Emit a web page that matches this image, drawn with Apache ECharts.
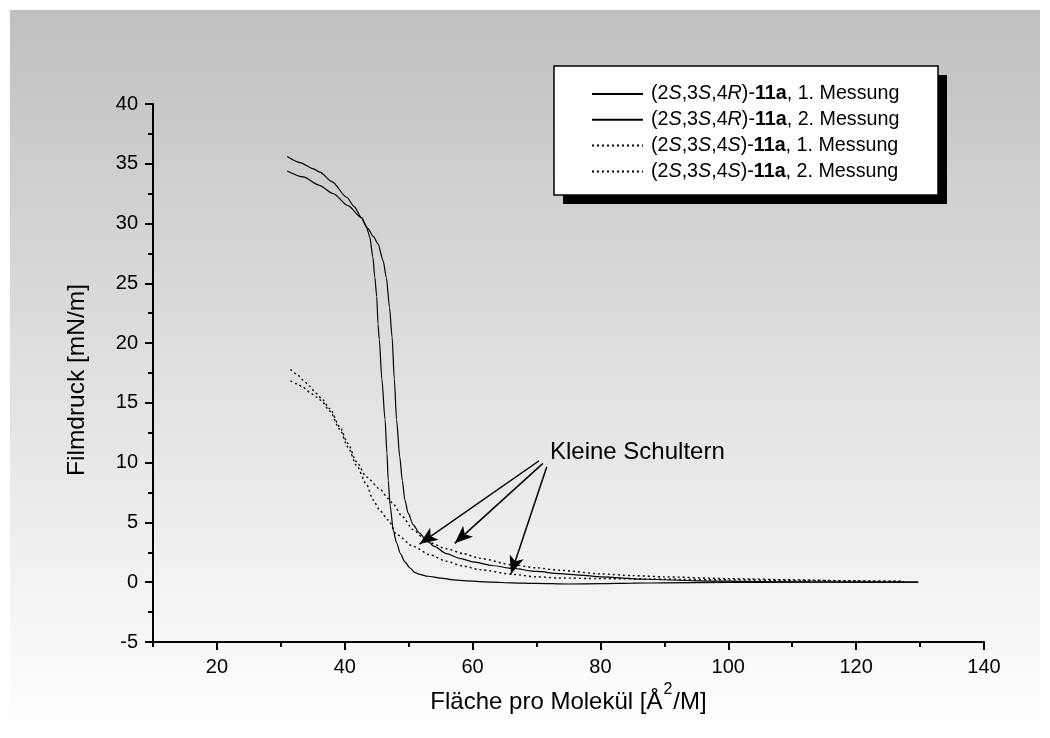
<!DOCTYPE html>
<html>
<head>
<meta charset="utf-8">
<script src="https://cdn.jsdelivr.net/npm/echarts@6/dist/echarts.min.js"></script>
<style>
  html, body { margin: 0; padding: 0; background: #ffffff; }
  #chart { width: 1050px; height: 738px; }
</style>
</head>
<body>
<div id="chart"></div>
<script>
// Isotherm data: area per molecule [Å²/M] vs. film pressure [mN/m]
const seriesNames = [
  '(2S,3S,4R)-11a, 1. Messung',
  '(2S,3S,4R)-11a, 2. Messung',
  '(2S,3S,4S)-11a, 1. Messung',
  '(2S,3S,4S)-11a, 2. Messung'
];

// rich-text pieces for each legend entry: configuration at C4, measurement no.
const legendConfig = ['R', 'R', 'S', 'S'];
const legendRun = ['1', '2', '1', '2'];

const r1 = [
  [31.0, 35.6], [33.0, 35.1], [35.0, 34.6], [36.1, 34.3], [38.0, 33.5], [40.3, 32.2],
  [41.5, 31.4], [42.6, 30.5], [43.4, 29.7], [43.9, 28.9], [44.4, 27.2], [44.7, 25.5],
  [45.0, 23.9], [45.2, 21.6], [45.4, 20.3], [45.8, 17.0], [46.3, 13.6], [46.6, 10.8],
  [46.8, 8.5], [47.1, 6.4], [47.6, 4.3], [48.1, 3.3], [48.7, 2.4], [49.4, 1.7],
  [50.2, 1.2], [51.0, 0.8], [51.7, 0.65], [53.0, 0.5], [55.0, 0.35], [57.0, 0.2],
  [59.0, 0.12], [61.0, 0.05], [63.0, 0.0], [66.0, -0.05], [70.0, -0.1], [75.0, -0.15],
  [80.0, -0.12], [85.0, -0.08], [90.0, -0.05], [100.0, -0.02], [110.0, 0.0], [120.0, 0.0],
  [129.7, 0.0]
];

const r2 = [
  [31.0, 34.4], [33.5, 33.9], [36.0, 33.2], [38.2, 32.5], [40.5, 31.5], [42.6, 30.5],
  [43.6, 29.6], [44.5, 28.9], [45.2, 28.3], [46.0, 26.9], [46.5, 25.5], [47.0, 23.0],
  [47.4, 20.5], [47.75, 17.0], [48.1, 13.6], [48.6, 10.5], [49.0, 8.5], [49.4, 6.9],
  [49.9, 5.8], [50.7, 4.8], [51.7, 4.1], [52.8, 3.5], [54.0, 3.0], [55.9, 2.4],
  [58.0, 2.0], [60.1, 1.7], [63.0, 1.4], [66.3, 1.15], [70.0, 0.9], [73.6, 0.72],
  [76.8, 0.6], [80.0, 0.45], [87.2, 0.25], [95.0, 0.12], [105.0, 0.05], [115.0, 0.02],
  [129.7, 0.0]
];

const s1 = [
  [31.5, 17.8], [32.5, 17.4], [33.5, 16.9], [34.5, 16.4], [35.5, 15.8], [36.3, 15.4],
  [37.7, 14.5], [39.2, 13.0], [40.5, 11.6], [41.8, 10.1], [43.4, 8.8], [45.5, 7.8],
  [46.8, 7.0], [47.5, 6.6], [49.0, 5.5], [50.7, 4.4], [52.3, 3.7], [53.3, 3.3],
  [55.9, 2.8], [58.5, 2.4], [61.1, 2.0], [66.3, 1.45], [70.0, 1.2], [73.6, 1.0],
  [80.0, 0.7], [85.0, 0.55], [90.0, 0.45], [100.0, 0.3], [110.0, 0.2], [120.0, 0.1],
  [127.5, 0.05]
];

const s2 = [
  [31.5, 16.85], [32.5, 16.6], [33.5, 16.3], [34.5, 15.9], [35.5, 15.5], [36.3, 15.2],
  [37.7, 14.3], [39.2, 12.8], [40.5, 11.3], [41.8, 9.8], [43.4, 8.2], [44.4, 6.9],
  [45.5, 6.0], [46.8, 5.2], [48.1, 4.0], [50.7, 3.0], [53.3, 2.3], [55.9, 1.75],
  [58.5, 1.35], [61.1, 1.05], [66.3, 0.65], [70.0, 0.45], [73.6, 0.35], [80.0, 0.3],
  [90.0, 0.25], [100.0, 0.2], [110.0, 0.15], [120.0, 0.1], [127.0, 0.08]
];

// annotation arrows: [start, tip] in data coordinates
const shoulderArrows = [
  [[70.4, 10.16], [51.7, 3.19]],
  [[71.0, 9.94], [57.2, 3.25]],
  [[71.6, 9.66], [66.0, 0.69]]
];
const shoulderLabel = 'Kleine Schultern';
const shoulderLabelAt = [72.1, 10.9];

const xMajorTicks = [20, 40, 60, 80, 100, 120, 140];

const FONT = '"Liberation Sans", Arial, Helvetica, sans-serif';
const GRID = { left: 153, right: 66, top: 104, bottom: 96 };
const LEGEND_FS = 19.7;

const chart = echarts.init(document.getElementById('chart'), null, { renderer: 'canvas' });

function legendText(name) {
  const i = seriesNames.indexOf(name);
  return '{n|(2}{i|S}{n|,3}{i|S}{n|,4}{i|' + legendConfig[i] + '}{n|)-}{b|11a}{n|, ' +
    legendRun[i] + '. Messung}';
}

function curve(name, data, dotted, extra) {
  return Object.assign({
    name: name,
    type: 'line',
    xAxisIndex: 0,
    yAxisIndex: 0,
    data: data,
    showSymbol: false,
    symbol: 'none',
    smooth: 0.25,
    smoothMonotone: 'x',
    animation: false,
    lineStyle: dotted
      ? { color: '#000', width: 1.4, type: [2, 3] }
      : { color: '#000', width: 1.2, type: 'solid' },
    itemStyle: { color: '#000' },
    z: 3
  }, extra || {});
}

const option = {
  backgroundColor: '#ffffff',
  animation: false,
  graphic: [
    {
      type: 'rect', z: -10, silent: true,
      shape: { x: 10, y: 10, width: 1030, height: 718 },
      style: {
        fill: {
          type: 'linear', x: 0, y: 0, x2: 0, y2: 1,
          colorStops: [{ offset: 0, color: '#c0c0c0' }, { offset: 1, color: '#ffffff' }]
        }
      }
    },
    {
      type: 'rect', z: 5, silent: true,
      shape: { x: 563, y: 75, width: 384, height: 129 },
      style: { fill: '#000' }
    },
    {
      type: 'rect', z: 6, silent: true,
      shape: { x: 554, y: 66, width: 384, height: 129 },
      style: { fill: '#fff', stroke: '#000', lineWidth: 1.5 }
    }
  ],
  legend: {
    z: 10,
    orient: 'vertical',
    left: 591,
    top: 84,
    itemWidth: 51,
    itemHeight: 14,
    itemGap: 5.8,
    padding: 0,
    selectedMode: false,
    data: seriesNames,
    formatter: legendText,
    itemStyle: { opacity: 0 },
    textStyle: {
      color: '#000',
      fontFamily: FONT,
      fontSize: LEGEND_FS,
      padding: [0, 0, 0, 3],
      rich: {
        n: { fontFamily: FONT, fontSize: LEGEND_FS, color: '#000', lineHeight: 20 },
        i: { fontFamily: FONT, fontSize: LEGEND_FS, color: '#000', fontStyle: 'italic', lineHeight: 20 },
        b: { fontFamily: FONT, fontSize: LEGEND_FS, color: '#000', fontWeight: 'bold', lineHeight: 20 }
      }
    }
  },
  grid: [
    Object.assign({ containLabel: false }, GRID),
    Object.assign({ containLabel: false }, GRID)
  ],
  xAxis: [
    {
      type: 'value', gridIndex: 0, min: 10, max: 140, interval: 10,
      position: 'bottom',
      name: '{n|Fläche pro Molekül [Å}{s|2}{n|/M]}',
      nameLocation: 'middle',
      nameGap: 36,
      nameTextStyle: {
        rich: {
          n: { fontFamily: FONT, fontSize: 24, color: '#000', lineHeight: 32, verticalAlign: 'bottom' },
          s: { fontFamily: FONT, fontSize: 16, color: '#000', lineHeight: 32, verticalAlign: 'top', padding: [0, 1, 0, 1] }
        }
      },
      axisLine: { show: true, onZero: false, lineStyle: { color: '#000', width: 2 } },
      axisTick: { show: true, inside: false, length: 8, customValues: xMajorTicks, lineStyle: { color: '#000', width: 2 } },
      axisLabel: { show: true, customValues: xMajorTicks, margin: 15, color: '#000', fontFamily: FONT, fontSize: 20 },
      splitLine: { show: false },
      minorTick: { show: false }
    },
    {
      type: 'value', gridIndex: 1, min: 10, max: 140, interval: 10,
      position: 'bottom',
      axisLine: { show: false, onZero: false },
      axisTick: { show: true, inside: false, length: 5, lineStyle: { color: '#000', width: 2 } },
      axisLabel: { show: false },
      splitLine: { show: false }
    }
  ],
  yAxis: [
    {
      type: 'value', gridIndex: 0, min: -5, max: 40, interval: 5,
      name: 'Filmdruck [mN/m]',
      nameLocation: 'middle',
      nameGap: 63,
      nameTextStyle: { color: '#000', fontFamily: FONT, fontSize: 24.5, padding: [0, 14, 0, 0] },
      axisLine: { show: true, onZero: false, lineStyle: { color: '#000', width: 2 } },
      axisTick: { show: true, inside: false, length: 8, lineStyle: { color: '#000', width: 2 } },
      minorTick: { show: true, splitNumber: 2, length: 5, lineStyle: { color: '#000', width: 2 } },
      axisLabel: { show: true, margin: 15, color: '#000', fontFamily: FONT, fontSize: 20 },
      splitLine: { show: false }
    },
    {
      type: 'value', gridIndex: 1, min: -5, max: 40, interval: 5, show: false
    }
  ],
  series: [
    curve(seriesNames[0], r1, false),
    curve(seriesNames[1], r2, false, {
      markLine: {
        silent: true,
        animation: false,
        symbol: ['none', 'arrow'],
        symbolSize: [11, 18],
        label: { show: false },
        lineStyle: { color: '#000', width: 1.5, type: 'solid' },
        emphasis: { disabled: true },
        data: shoulderArrows.map(function (a) {
          return [{ coord: a[0] }, { coord: a[1] }];
        })
      },
      markPoint: {
        silent: true,
        animation: false,
        symbol: 'circle',
        symbolSize: 0,
        data: [{
          coord: shoulderLabelAt,
          label: {
            show: true, position: 'right', distance: 0,
            formatter: shoulderLabel,
            color: '#000', fontFamily: FONT, fontSize: 24
          }
        }]
      }
    }),
    curve(seriesNames[2], s1, true),
    curve(seriesNames[3], s2, true)
  ]
};

chart.setOption(option);
</script>
</body>
</html>
